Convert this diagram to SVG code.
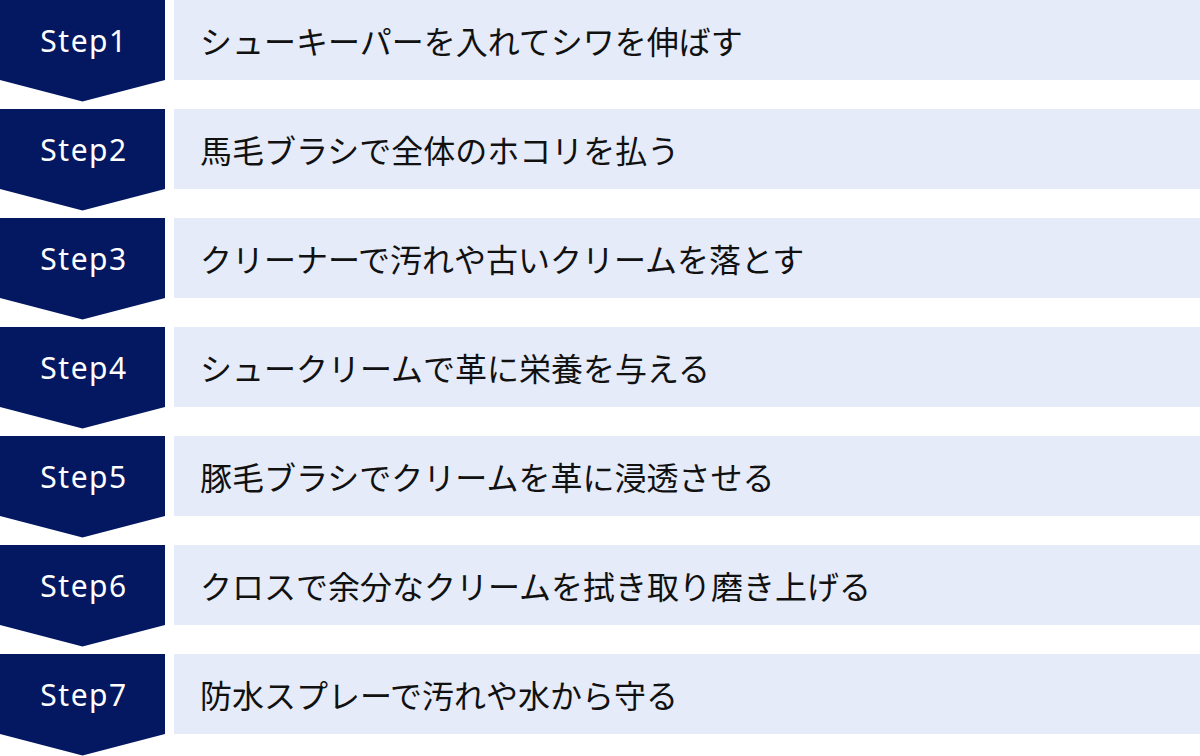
<svg xmlns="http://www.w3.org/2000/svg" width="1200" height="756" viewBox="0 0 1200 756">
<defs>
<style>
.tag{fill:#041862}
.box{fill:#e5ebf8}
.lbl{fill:#ffffff;font-family:"Noto Sans","Noto Sans CJK JP",sans-serif;font-size:30px;font-weight:400;letter-spacing:1.5px;text-anchor:middle}
.txt{fill:#111111;font-family:"Noto Sans CJK JP","Noto Sans",sans-serif;font-size:32px;dominant-baseline:central}
</style>
<path id="chev" d="M0 0H165V80L82.5 101.5L0 80Z"/>
</defs>
<rect width="1200" height="756" fill="#ffffff"/>
<g id="connectors"/>
<g id="step1" transform="translate(0,0)"><use href="#chev" class="tag"/><rect class="box" x="174" y="0" width="1026" height="80"/><text class="lbl" x="84" y="51.7">Step1</text><text class="txt" x="200" y="40">シューキーパーを入れてシワを伸ばす</text></g>
<g id="step2" transform="translate(0,109)"><use href="#chev" class="tag"/><rect class="box" x="174" y="0" width="1026" height="80"/><text class="lbl" x="84" y="51.7">Step2</text><text class="txt" x="200" y="40">馬毛ブラシで全体のホコリを払う</text></g>
<g id="step3" transform="translate(0,218)"><use href="#chev" class="tag"/><rect class="box" x="174" y="0" width="1026" height="80"/><text class="lbl" x="84" y="51.7">Step3</text><text class="txt" x="200" y="40">クリーナーで汚れや古いクリームを落とす</text></g>
<g id="step4" transform="translate(0,327)"><use href="#chev" class="tag"/><rect class="box" x="174" y="0" width="1026" height="80"/><text class="lbl" x="84" y="51.7">Step4</text><text class="txt" x="200" y="40">シュークリームで革に栄養を与える</text></g>
<g id="step5" transform="translate(0,436)"><use href="#chev" class="tag"/><rect class="box" x="174" y="0" width="1026" height="80"/><text class="lbl" x="84" y="51.7">Step5</text><text class="txt" x="200" y="40">豚毛ブラシでクリームを革に浸透させる</text></g>
<g id="step6" transform="translate(0,545)"><use href="#chev" class="tag"/><rect class="box" x="174" y="0" width="1026" height="80"/><text class="lbl" x="84" y="51.7">Step6</text><text class="txt" x="200" y="40">クロスで余分なクリームを拭き取り磨き上げる</text></g>
<g id="step7" transform="translate(0,654)"><use href="#chev" class="tag"/><rect class="box" x="174" y="0" width="1026" height="80"/><text class="lbl" x="84" y="51.7">Step7</text><text class="txt" x="200" y="40">防水スプレーで汚れや水から守る</text></g>
</svg>
